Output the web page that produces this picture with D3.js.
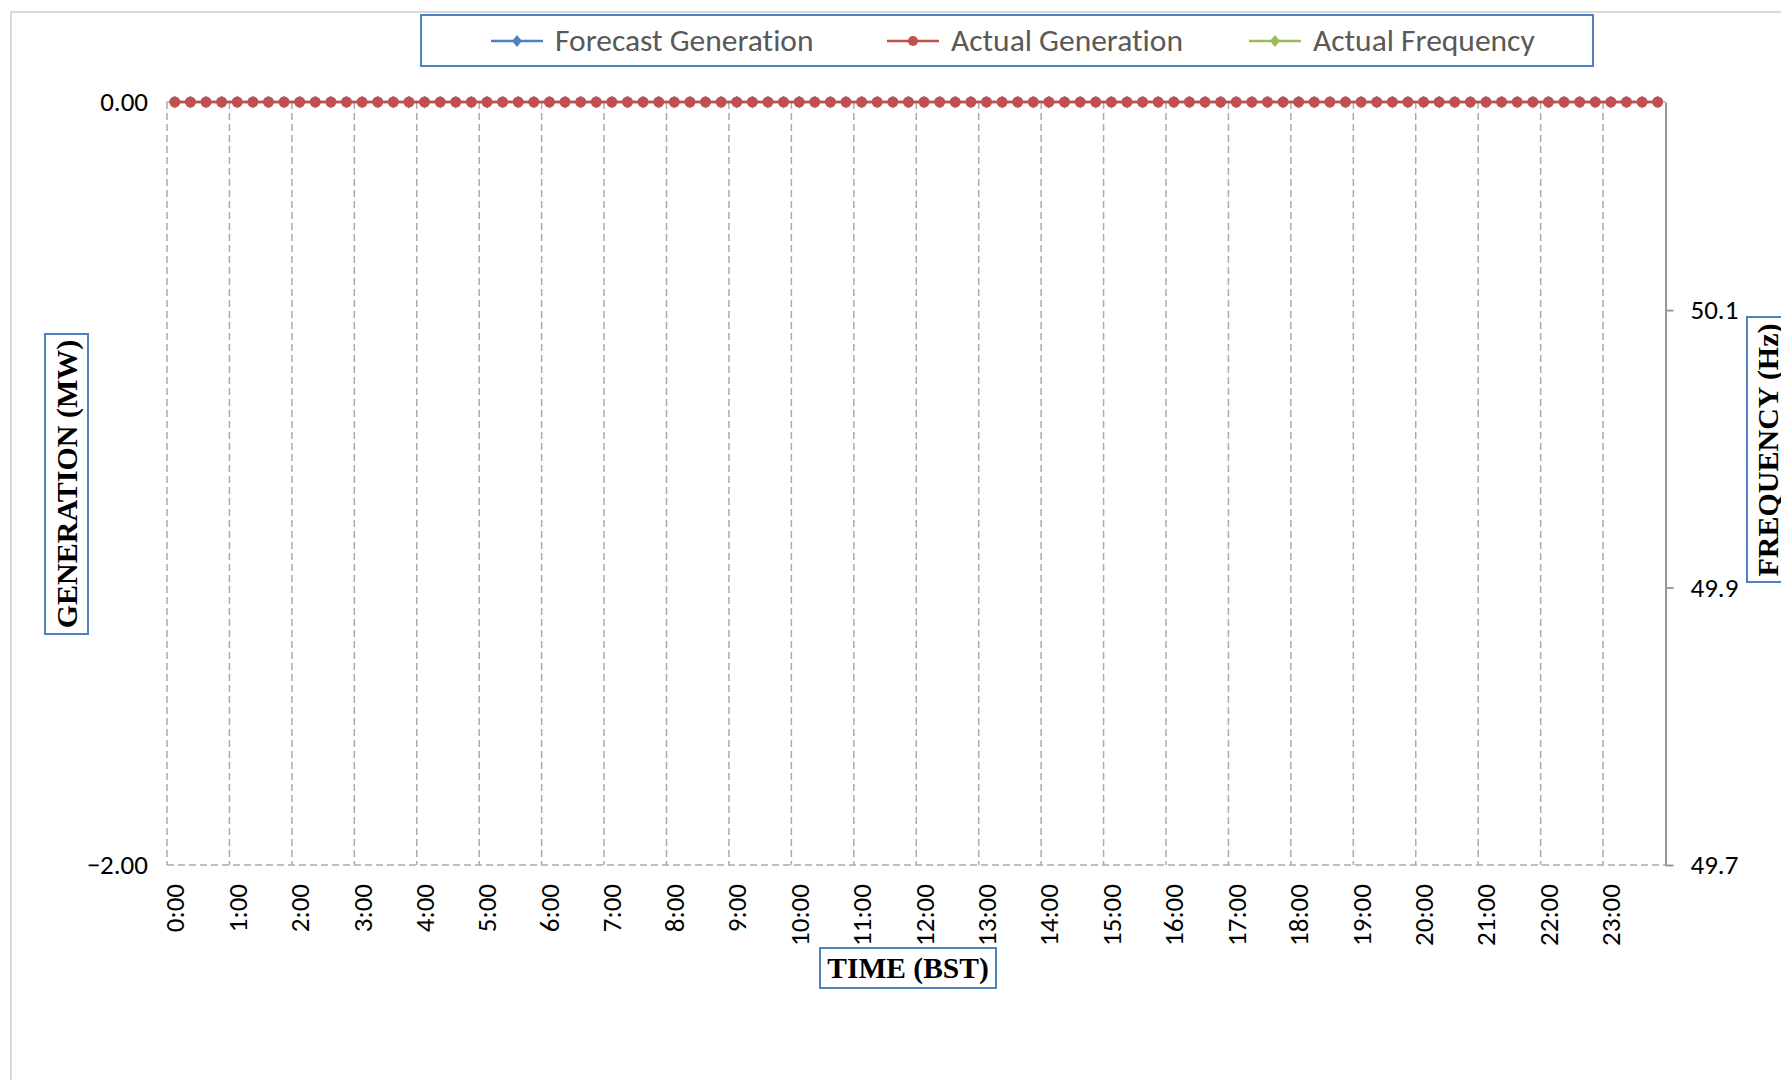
<!DOCTYPE html>
<html>
<head>
<meta charset="utf-8">
<script src="https://cdn.jsdelivr.net/npm/d3@7/dist/d3.min.js"></script>
<style>
  html, body { margin: 0; padding: 0; background: #ffffff; overflow: hidden; }
  svg { display: block; }
  text { font-variant-ligatures: none; font-feature-settings: "liga" 0, "clig" 0; }
</style>
</head>
<body>
<svg id="chart" width="1781" height="1080"></svg>
<script>
// ---------------- DATA ----------------
const categories = [
  "0:00","0:15","0:30","0:45","1:00","1:15","1:30","1:45",
  "2:00","2:15","2:30","2:45","3:00","3:15","3:30","3:45",
  "4:00","4:15","4:30","4:45","5:00","5:15","5:30","5:45",
  "6:00","6:15","6:30","6:45","7:00","7:15","7:30","7:45",
  "8:00","8:15","8:30","8:45","9:00","9:15","9:30","9:45",
  "10:00","10:15","10:30","10:45","11:00","11:15","11:30","11:45",
  "12:00","12:15","12:30","12:45","13:00","13:15","13:30","13:45",
  "14:00","14:15","14:30","14:45","15:00","15:15","15:30","15:45",
  "16:00","16:15","16:30","16:45","17:00","17:15","17:30","17:45",
  "18:00","18:15","18:30","18:45","19:00","19:15","19:30","19:45",
  "20:00","20:15","20:30","20:45","21:00","21:15","21:30","21:45",
  "22:00","22:15","22:30","22:45","23:00","23:15","23:30","23:45"
];
const forecastGeneration = [
  0,0,0,0,0,0,0,0, 0,0,0,0,0,0,0,0, 0,0,0,0,0,0,0,0,
  0,0,0,0,0,0,0,0, 0,0,0,0,0,0,0,0, 0,0,0,0,0,0,0,0,
  0,0,0,0,0,0,0,0, 0,0,0,0,0,0,0,0, 0,0,0,0,0,0,0,0,
  0,0,0,0,0,0,0,0, 0,0,0,0,0,0,0,0, 0,0,0,0,0,0,0,0
];
const actualGeneration = [
  0,0,0,0,0,0,0,0, 0,0,0,0,0,0,0,0, 0,0,0,0,0,0,0,0,
  0,0,0,0,0,0,0,0, 0,0,0,0,0,0,0,0, 0,0,0,0,0,0,0,0,
  0,0,0,0,0,0,0,0, 0,0,0,0,0,0,0,0, 0,0,0,0,0,0,0,0,
  0,0,0,0,0,0,0,0, 0,0,0,0,0,0,0,0, 0,0,0,0,0,0,0,0
];
const actualFrequency = []; // no frequency data plotted
const hourLabels = [
  "0:00","1:00","2:00","3:00","4:00","5:00","6:00","7:00",
  "8:00","9:00","10:00","11:00","12:00","13:00","14:00","15:00",
  "16:00","17:00","18:00","19:00","20:00","21:00","22:00","23:00"
];
const generationTicks = [0, -2];
const generationDomain = [-2, 0];
const frequencyTicks = [49.7, 49.9, 50.1];
const frequencyDomain = [49.7, 50.25];
const seriesNames = ["Forecast Generation", "Actual Generation", "Actual Frequency"];

// ---------------- LAYOUT ----------------
const svg = d3.select("#chart");
const L = 167, R = 1665.5, T = 102, B = 865;
const sansFont = "Carlito, Calibri, Lato, sans-serif";
const serifFont = "'Liberation Serif', 'Times New Roman', serif";
const blue = "#4F81BD", red = "#C0504D", green = "#9BBB59";
const gridCol = "#ababab";
const tickFont = 27;

// chart area border
svg.append("rect").attr("x", 11).attr("y", 12).attr("width", 1800).attr("height", 1100)
  .attr("fill", "#fff").attr("stroke", "#d9d9d9").attr("stroke-width", 2);

const x = d3.scaleBand().domain(categories).range([L, R]).paddingInner(0).paddingOuter(0);
const yGen = d3.scaleLinear().domain(generationDomain).range([B, T]);
const yFreq = d3.scaleLinear().domain(frequencyDomain).range([B, T]);

// vertical gridlines at hour boundaries
svg.append("g").selectAll("line").data(hourLabels).join("line")
  .attr("x1", d => x(d)).attr("x2", d => x(d))
  .attr("y1", T).attr("y2", B)
  .attr("stroke", gridCol).attr("stroke-width", 1.5).attr("stroke-dasharray", "7,4");

// horizontal gridlines for generation ticks
svg.append("g").selectAll("line").data(generationTicks).join("line")
  .attr("x1", L).attr("x2", R)
  .attr("y1", d => yGen(d)).attr("y2", d => yGen(d))
  .attr("stroke", gridCol).attr("stroke-width", 1.5).attr("stroke-dasharray", "7,4");

// left axis (labels only)
const gL = svg.append("g").attr("transform", `translate(${L},0)`)
  .call(d3.axisLeft(yGen).tickValues(generationTicks).tickFormat(d3.format(".2f")).tickSize(0).tickPadding(19));
gL.select(".domain").remove();
gL.selectAll("text").attr("font-family", sansFont).attr("font-size", tickFont).attr("fill", "#000");

// right axis
const gR = svg.append("g").attr("transform", `translate(${R},0)`)
  .call(d3.axisRight(yFreq).tickValues(frequencyTicks).tickFormat(d3.format(".1f"))
    .tickSize(8).tickSizeOuter(0).tickPadding(17));
gR.select(".domain").attr("stroke", "#999").attr("stroke-width", 2);
gR.selectAll(".tick line").attr("stroke", "#999").attr("stroke-width", 2);
gR.selectAll("text").attr("font-family", sansFont).attr("font-size", tickFont).attr("fill", "#000");

// bottom axis (labels only, rotated)
const gB = svg.append("g").attr("transform", `translate(0,${B})`)
  .call(d3.axisBottom(x).tickValues(hourLabels).tickSize(0));
gB.select(".domain").remove();
gB.selectAll("text")
  .attr("font-family", sansFont).attr("font-size", tickFont).attr("fill", "#000")
  .attr("transform", "rotate(-90)")
  .attr("x", -19).attr("y", 0).attr("dy", "0.35em")
  .attr("text-anchor", "end");

// series
const cx = d => x(d) + x.bandwidth() / 2;
const lineGen = d3.line().x(d => cx(d.c)).y(d => yGen(d.v));
const fData = categories.map((c, i) => ({ c, v: forecastGeneration[i] }));
const aData = categories.map((c, i) => ({ c, v: actualGeneration[i] }));
const diamond = (w, h) => `M0,${-h}L${w},0L0,${h}L${-w},0Z`;

svg.append("path").datum(fData).attr("d", lineGen).attr("fill", "none")
  .attr("stroke", blue).attr("stroke-width", 2.5);
svg.append("g").selectAll("path").data(fData).join("path")
  .attr("transform", d => `translate(${cx(d.c)},${yGen(d.v)})`)
  .attr("d", diamond(4, 6.5)).attr("fill", blue);

svg.append("path").datum(aData).attr("d", lineGen).attr("fill", "none")
  .attr("stroke", red).attr("stroke-width", 2.5);
svg.append("g").selectAll("circle").data(aData).join("circle")
  .attr("cx", d => cx(d.c)).attr("cy", d => yGen(d.v)).attr("r", 5.5).attr("fill", red);

const freqLine = d3.line().x(d => cx(d.c)).y(d => yFreq(d.v));
svg.append("path").datum(actualFrequency).attr("d", freqLine).attr("fill", "none")
  .attr("stroke", green).attr("stroke-width", 2.5);

// legend
svg.append("rect").attr("x", 421).attr("y", 15).attr("width", 1172).attr("height", 51)
  .attr("fill", "#fff").attr("stroke", blue).attr("stroke-width", 2);
const legendItems = [
  { name: seriesNames[0], color: blue, x0: 491, marker: "diamond" },
  { name: seriesNames[1], color: red, x0: 887, marker: "circle" },
  { name: seriesNames[2], color: green, x0: 1249, marker: "diamond" }
];
const ly = 41;
legendItems.forEach(it => {
  const g = svg.append("g");
  g.append("line").attr("x1", it.x0).attr("x2", it.x0 + 52).attr("y1", ly).attr("y2", ly)
    .attr("stroke", it.color).attr("stroke-width", 2.5);
  if (it.marker === "circle") {
    g.append("circle").attr("cx", it.x0 + 26).attr("cy", ly).attr("r", 5).attr("fill", it.color);
  } else {
    g.append("path").attr("transform", `translate(${it.x0 + 26},${ly})`)
      .attr("d", diamond(5, 6)).attr("fill", it.color);
  }
  g.append("text").attr("x", it.x0 + 64).attr("y", ly - 1).attr("dy", "0.36em")
    .attr("font-family", sansFont).attr("font-size", 31.5).attr("fill", "#595959")
    .text(it.name);
});

// axis titles
function boxedTitle(text, cxp, cyp, rot, bx, by, bw, bh, size) {
  svg.append("rect").attr("x", bx).attr("y", by).attr("width", bw).attr("height", bh)
    .attr("fill", "#fff").attr("stroke", blue).attr("stroke-width", 2);
  svg.append("text").attr("transform", `translate(${cxp},${cyp}) rotate(${rot})`)
    .attr("text-anchor", "middle").attr("dy", "0.35em")
    .attr("font-family", serifFont).attr("font-weight", "bold").attr("font-size", size)
    .attr("fill", "#000").text(text);
}
boxedTitle("GENERATION (MW)", 66, 484, -90, 45, 334, 43, 300, 30);
boxedTitle("TIME (BST)", 908, 968, 0, 820, 948, 176, 40, 29.5);
boxedTitle("FREQUENCY (Hz)", 1767, 450, -90, 1747, 317, 60, 265, 30);
</script>
</body>
</html>
